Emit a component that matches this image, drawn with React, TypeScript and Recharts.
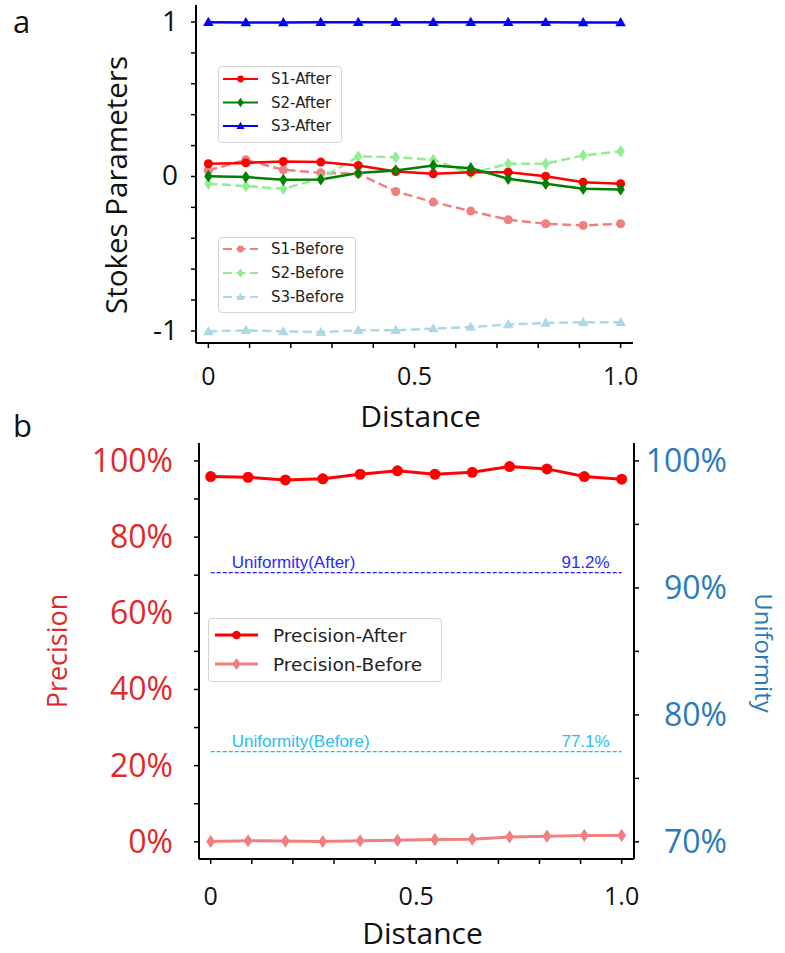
import React from "react";
import { LineChart, Line, XAxis, YAxis, Legend, ReferenceLine } from "recharts";

// distance along the sample, 12 equally spaced points
const distance = [0, 0.0909, 0.1818, 0.2727, 0.3636, 0.4545, 0.5455, 0.6364, 0.7273, 0.8182, 0.9091, 1.0];

// panel a: Stokes parameters
const s1After = [0.082, 0.088, 0.097, 0.093, 0.071, 0.032, 0.017, 0.028, 0.028, 0.002, -0.037, -0.047];
const s2After = [0.002, -0.004, -0.022, -0.019, 0.022, 0.039, 0.071, 0.054, -0.015, -0.047, -0.08, -0.084];
const s3After = [0.998, 0.997, 0.997, 0.998, 0.998, 0.998, 0.998, 0.998, 0.999, 0.998, 0.997, 0.997];
const s1Before = [0.039, 0.108, 0.043, 0.024, 0.017, -0.097, -0.166, -0.224, -0.28, -0.306, -0.317, -0.306];
const s2Before = [-0.047, -0.062, -0.08, -0.012, 0.129, 0.125, 0.108, 0.02, 0.082, 0.082, 0.136, 0.162];
const s3Before = [-1.003, -0.996, -1.003, -1.008, -0.996, -0.996, -0.985, -0.975, -0.958, -0.949, -0.943, -0.943];

// panel b: precision (%) and uniformity (%)
const precisionAfter = [95.9, 95.7, 95.0, 95.3, 96.5, 97.4, 96.5, 97.0, 98.5, 97.9, 95.9, 95.2];
const precisionBefore = [0.1, 0.3, 0.2, 0.1, 0.3, 0.4, 0.6, 0.7, 1.3, 1.5, 1.7, 1.7];
const uniformityAfter = 91.2;
const uniformityBefore = 77.1;

// ticks
const xTicks = [0, 0.1, 0.2, 0.3, 0.4, 0.5, 0.6, 0.7, 0.8, 0.9, 1.0];
const xLabels: Record<string, string> = { "0": "0", "0.5": "0.5", "1": "1.0" };
const stokesTicks = [-1, -0.8, -0.6, -0.4, -0.2, 0, 0.2, 0.4, 0.6, 0.8, 1];
const precisionTicks = [0, 10, 20, 30, 40, 50, 60, 70, 80, 90, 100];
const uniformityTicks = [70, 75, 80, 85, 90, 95, 100];

const TICK_FONT = "'Open Sans', 'Noto Sans', sans-serif";
const LEGEND_FONT = "'DejaVu Sans', sans-serif";
const NOTE_FONT = "'Liberation Sans', Arial, sans-serif";
const RED_TEXT = "#e02a2a";
const BLUE_TEXT = "#2b7bba";

type Shape = "circle" | "diamond" | "triangle";
interface Series {
  key: string;
  name: string;
  color: string;
  shape: Shape;
  dash?: string;
  values: number[];
}

const stokesSeries: Series[] = [
  { key: "s1Before", name: "S1-Before", color: "#f08080", shape: "circle", dash: "9 4.5", values: s1Before },
  { key: "s2Before", name: "S2-Before", color: "#90ee90", shape: "diamond", dash: "9 4.5", values: s2Before },
  { key: "s3Before", name: "S3-Before", color: "#add8e6", shape: "triangle", dash: "9 4.5", values: s3Before },
  { key: "s1After", name: "S1-After", color: "#ff0000", shape: "circle", values: s1After },
  { key: "s2After", name: "S2-After", color: "#008000", shape: "diamond", values: s2After },
  { key: "s3After", name: "S3-After", color: "#0000ff", shape: "triangle", values: s3After },
];

const precisionSeries: Series[] = [
  { key: "precisionBefore", name: "Precision-Before", color: "#f08080", shape: "diamond", values: precisionBefore },
  { key: "precisionAfter", name: "Precision-After", color: "#ff0000", shape: "circle", values: precisionAfter },
];

const stokesData = distance.map((d, i) => {
  const row: Record<string, number> = { d };
  stokesSeries.forEach((s) => (row[s.key] = s.values[i]));
  return row;
});
const precisionData = distance.map((d, i) => {
  const row: Record<string, number> = { d };
  precisionSeries.forEach((s) => (row[s.key] = s.values[i]));
  return row;
});

function marker(shape: Shape, cx: number, cy: number, color: string, size: number, key?: string) {
  if (cx == null || cy == null || isNaN(cx) || isNaN(cy)) return <g key={key} />;
  if (shape === "circle") return <circle key={key} cx={cx} cy={cy} r={size} fill={color} />;
  if (shape === "diamond") {
    const pts = `${cx},${cy - size * 1.4} ${cx + size * 0.95},${cy} ${cx},${cy + size * 1.4} ${cx - size * 0.95},${cy}`;
    return <polygon key={key} points={pts} fill={color} />;
  }
  const pts = `${cx},${cy - size * 1.25} ${cx + size * 1.2},${cy + size * 0.85} ${cx - size * 1.2},${cy + size * 0.85}`;
  return <polygon key={key} points={pts} fill={color} />;
}

const makeXTick = (dy: number) => (props: any) => {
  const { x, y, payload } = props;
  const label = xLabels[String(Math.round(payload.value * 10) / 10)];
  if (!label) return <g />;
  return (
    <text x={x} y={y} dy={dy} textAnchor="middle" fontFamily={TICK_FONT} fontSize={25} fill="#111">
      {label}
    </text>
  );
};

const StokesTick = (props: any) => {
  const { x, y, payload } = props;
  const v = payload.value;
  if (Math.abs(v - Math.round(v)) > 1e-6) return <g />;
  return (
    <text x={x} y={y} dy={9} textAnchor="end" fontFamily={TICK_FONT} fontSize={28} fill="#111">
      {Math.round(v)}
    </text>
  );
};

const PrecisionTick = (props: any) => {
  const { x, y, payload } = props;
  if (payload.value % 20 !== 0) return <g />;
  return (
    <text x={x} y={y} dy={11} textAnchor="end" fontFamily={TICK_FONT} fontSize={32} fill={RED_TEXT}>
      {payload.value}%
    </text>
  );
};

const UniformityTick = (props: any) => {
  const { x, y, payload } = props;
  if (payload.value % 10 !== 0) return <g />;
  return (
    <text x={x + 85} y={y} dy={11} textAnchor="end" fontFamily={TICK_FONT} fontSize={32} fill={BLUE_TEXT}>
      {payload.value}%
    </text>
  );
};

const AxisTitle = (props: any) => {
  const { viewBox, text, dx, dy, rotate, size, color } = props;
  const vb = viewBox || { x: 0, y: 0, width: 0, height: 0 };
  let tx: number;
  let ty: number;
  if (rotate === 0) {
    tx = vb.x + vb.width / 2 + dx;
    ty = vb.y + dy;
  } else {
    tx = vb.x + dx;
    ty = vb.y + vb.height / 2 + dy;
  }
  return (
    <text
      x={tx}
      y={ty}
      textAnchor="middle"
      transform={rotate ? `rotate(${rotate}, ${tx}, ${ty})` : undefined}
      fontFamily={TICK_FONT}
      fontSize={size}
      fill={color}
    >
      {text}
    </text>
  );
};

const UniformityLabel = (props: any) => {
  const { viewBox, title, value, color } = props;
  if (!viewBox) return null;
  const y = viewBox.y - 5;
  return (
    <g fontFamily={NOTE_FONT} fontSize={17} fill={color}>
      <text x={viewBox.x + 21} y={y}>{title}</text>
      <text x={viewBox.x + viewBox.width - 12} y={y} textAnchor="end">
        {value}
      </text>
    </g>
  );
};

function LegendBox({
  items,
  left,
  top,
  width,
  height,
  first,
  step,
  fontSize,
  lineX,
  lineLen,
  textX,
  markerSize,
  strokeWidth,
}: {
  items: Series[];
  left: number;
  top: number;
  width: number;
  height: number;
  first: number;
  step: number;
  fontSize: number;
  lineX: number;
  lineLen: number;
  textX: number;
  markerSize: number;
  strokeWidth: number;
}) {
  return (
    <div
      style={{
        position: "absolute",
        left,
        top,
        width,
        height,
        boxSizing: "border-box",
        border: "1.5px solid #d4d4d4",
        borderRadius: 4,
        background: "rgba(255,255,255,0.85)",
      }}
    >
      <svg width={width} height={height} style={{ position: "absolute", left: -1.5, top: -1.5 }}>
        {items.map((s, i) => {
          const cy = first + i * step;
          return (
            <g key={s.key}>
              <line
                x1={lineX}
                x2={lineX + lineLen}
                y1={cy}
                y2={cy}
                stroke={s.color}
                strokeWidth={strokeWidth}
                strokeDasharray={s.dash ? "9 4.5" : undefined}
              />
              {marker(s.shape, lineX + lineLen / 2, cy, s.color, markerSize)}
              <text
                x={textX}
                y={cy}
                dy={fontSize * 0.36}
                fontFamily={LEGEND_FONT}
                fontSize={fontSize}
                fill="#222"
              >
                {s.name}
              </text>
            </g>
          );
        })}
      </svg>
    </div>
  );
}

function pickSeries(payload: any[] | undefined, all: Series[], names: string[]) {
  const present = new Set((payload || []).map((p: any) => p.value));
  return names
    .filter((n) => present.size === 0 || present.has(n))
    .map((n) => all.find((s) => s.name === n) as Series);
}

const panelLetter = (top: number): React.CSSProperties => ({
  position: "absolute",
  left: 13,
  top,
  fontFamily: TICK_FONT,
  fontSize: 31,
  lineHeight: "normal",
  color: "#111",
});

export default function App() {
  return (
    <div style={{ position: "absolute", left: 0, top: 0, width: 785, height: 953, background: "#fff" }}>
      {/* panel b */}
      <div style={{ position: "absolute", left: 0, top: 420 }}>
        <LineChart width={785} height={533} data={precisionData} margin={{ top: 23, right: 0, bottom: 0, left: 0 }}>
          <XAxis
            xAxisId="x"
            dataKey="d"
            type="number"
            domain={[-0.0285, 1.03]}
            ticks={xTicks}
            interval={0}
            allowDataOverflow
            height={94}
            tickSize={5}
            tickMargin={0}
            tick={makeXTick(41)}
            axisLine={{ stroke: "#000", strokeWidth: 2 }}
            tickLine={{ stroke: "#000", strokeWidth: 1.5 }}
            label={<AxisTitle text="Distance" dx={6} dy={85} rotate={0} size={30} color="#111" />}
          />
          <XAxis
            xAxisId="frame"
            orientation="top"
            type="number"
            domain={[0, 1]}
            height={0}
            tick={false}
            tickLine={false}
            axisLine={{ stroke: "#000", strokeWidth: 2 }}
          />
          <YAxis
            yAxisId="left"
            type="number"
            domain={[-4.5, 104.7]}
            ticks={precisionTicks}
            interval={0}
            allowDataOverflow
            width={199}
            tickSize={5}
            tickMargin={21}
            tick={PrecisionTick}
            axisLine={{ stroke: "#000", strokeWidth: 2 }}
            tickLine={{ stroke: "#000", strokeWidth: 1.5 }}
            label={<AxisTitle text="Precision" dx={67} dy={0} rotate={-90} size={27} color={RED_TEXT} />}
          />
          <YAxis
            yAxisId="right"
            orientation="right"
            type="number"
            domain={[68.65, 101.41]}
            ticks={uniformityTicks}
            interval={0}
            allowDataOverflow
            width={151}
            tickSize={5}
            tickMargin={3}
            tick={UniformityTick}
            axisLine={{ stroke: "#000", strokeWidth: 2 }}
            tickLine={{ stroke: "#000", strokeWidth: 1.5 }}
            label={<AxisTitle text="Uniformity" dx={121} dy={2} rotate={90} size={24} color={BLUE_TEXT} />}
          />
          <ReferenceLine
            xAxisId="x"
            yAxisId="right"
            segment={[
              { x: 0, y: uniformityAfter },
              { x: 1, y: uniformityAfter },
            ]}
            stroke="#2222ff"
            strokeWidth={1.3}
            strokeDasharray="4 2"
            label={<UniformityLabel title="Uniformity(After)" value={`${uniformityAfter}%`} color="#2a2aff" />}
          />
          <ReferenceLine
            xAxisId="x"
            yAxisId="right"
            segment={[
              { x: 0, y: uniformityBefore },
              { x: 1, y: uniformityBefore },
            ]}
            stroke="#1cb8f2"
            strokeWidth={1.3}
            strokeDasharray="4 2"
            label={<UniformityLabel title="Uniformity(Before)" value={`${uniformityBefore}%`} color="#2cbcf0" />}
          />
          {precisionSeries.map((s) => (
            <Line
              key={s.key}
              xAxisId="x"
              yAxisId="left"
              type="linear"
              dataKey={s.key}
              name={s.name}
              stroke={s.color}
              strokeWidth={3}
              dot={(p: any) => marker(s.shape, p.cx, p.cy, s.color, s.shape === "circle" ? 5.5 : 4.7, `${s.key}-${p.index}`)}
              activeDot={false}
              isAnimationActive={false}
            />
          ))}
          <Legend
            layout="vertical"
            align="center"
            verticalAlign="middle"
            wrapperStyle={{ left: 0, top: 0, width: 785, height: 0 }}
            content={(props: any) => (
              <div style={{ position: "relative" }}>
                <LegendBox
                  items={pickSeries(props.payload, precisionSeries, ["Precision-After", "Precision-Before"])}
                  left={208}
                  top={198}
                  width={234}
                  height={64}
                  first={17}
                  step={29}
                  fontSize={18.5}
                  lineX={7}
                  lineLen={43}
                  textX={65}
                  markerSize={4.3}
                  strokeWidth={3}
                />
              </div>
            )}
          />
        </LineChart>
      </div>

      {/* panel a */}
      <div style={{ position: "absolute", left: 0, top: 0 }}>
        <LineChart width={785} height={440} data={stokesData} margin={{ top: 5, right: 152, bottom: 0, left: 0 }}>
          <XAxis
            xAxisId="x"
            dataKey="d"
            type="number"
            domain={[-0.03, 1.03]}
            ticks={xTicks}
            interval={0}
            allowDataOverflow
            height={97}
            tickSize={5}
            tickMargin={0}
            tick={makeXTick(37)}
            axisLine={{ stroke: "#000", strokeWidth: 2 }}
            tickLine={{ stroke: "#000", strokeWidth: 1.5 }}
            label={<AxisTitle text="Distance" dx={6} dy={84} rotate={0} size={30} color="#111" />}
          />
          <XAxis
            xAxisId="frame"
            orientation="top"
            type="number"
            domain={[0, 1]}
            height={0}
            tick={false}
            tickLine={false}
            axisLine={{ stroke: "#000", strokeWidth: 2 }}
          />
          <YAxis
            yAxisId="y"
            type="number"
            domain={[-1.078, 1.11]}
            ticks={stokesTicks}
            interval={0}
            allowDataOverflow
            width={196}
            tickSize={5}
            tickMargin={13}
            tick={StokesTick}
            axisLine={{ stroke: "#000", strokeWidth: 2 }}
            tickLine={{ stroke: "#000", strokeWidth: 1.5 }}
            label={<AxisTitle text="Stokes Parameters" dx={127} dy={11} rotate={-90} size={29.5} color="#111" />}
          />
          <YAxis
            yAxisId="frame"
            orientation="right"
            type="number"
            domain={[0, 1]}
            width={0}
            tick={false}
            tickLine={false}
            axisLine={{ stroke: "#000", strokeWidth: 2 }}
          />
          {stokesSeries.map((s) => (
            <Line
              key={s.key}
              xAxisId="x"
              yAxisId="y"
              type="linear"
              dataKey={s.key}
              name={s.name}
              stroke={s.color}
              strokeWidth={2.5}
              strokeDasharray={s.dash}
              dot={(p: any) => marker(s.shape, p.cx, p.cy, s.color, s.shape === "circle" ? 4.5 : 4.4, `${s.key}-${p.index}`)}
              activeDot={false}
              isAnimationActive={false}
            />
          ))}
          <Legend
            layout="vertical"
            align="center"
            verticalAlign="middle"
            wrapperStyle={{ left: 0, top: 0, width: 785, height: 0 }}
            content={(props: any) => (
              <div style={{ position: "relative" }}>
                <LegendBox
                  items={pickSeries(props.payload, stokesSeries, ["S1-After", "S2-After", "S3-After"])}
                  left={218}
                  top={66}
                  width={124}
                  height={77}
                  first={13}
                  step={23.5}
                  fontSize={15}
                  lineX={5}
                  lineLen={35}
                  textX={53}
                  markerSize={3.4}
                  strokeWidth={2}
                />
                <LegendBox
                  items={pickSeries(props.payload, stokesSeries, ["S1-Before", "S2-Before", "S3-Before"])}
                  left={218}
                  top={237}
                  width={138}
                  height={76}
                  first={12}
                  step={24}
                  fontSize={15}
                  lineX={5}
                  lineLen={35}
                  textX={53}
                  markerSize={3.4}
                  strokeWidth={2}
                />
              </div>
            )}
          />
        </LineChart>
      </div>

      {/* panel letters */}
      <div style={panelLetter(0)}>a</div>
      <div style={panelLetter(404)}>b</div>
    </div>
  );
}
